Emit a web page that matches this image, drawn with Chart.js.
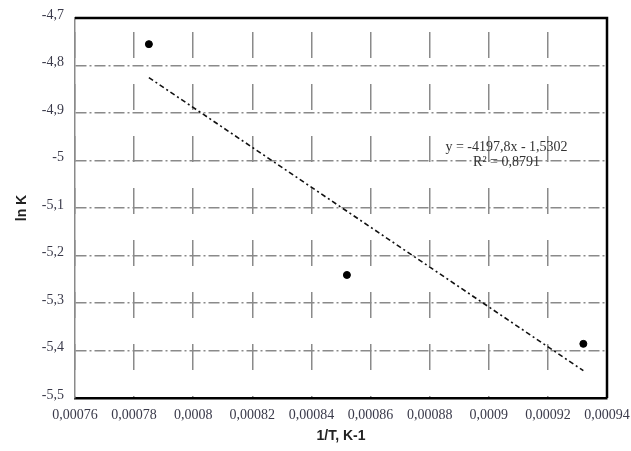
<!DOCTYPE html>
<html>
<head>
<meta charset="utf-8">
<script src="https://cdn.jsdelivr.net/npm/chart.js@4.4.1/dist/chart.umd.min.js"></script>
<style>
    html, body { margin: 0; padding: 0; background: #fff; }
    #wrap { width: 631px; height: 451px; position: relative; }
</style>
</head>
<body>
<div id="wrap"><canvas id="chart" width="631" height="451"></canvas></div>
<script>
// dados
const invT = [0.000785, 0.000852, 0.000932];
const lnK = [-4.755, -5.241, -5.386];

// linha de tendência (Excel): y = a*x + b
const trendSlope = -4197.8;
const trendIntercept = -1.5302;
const trendLabel = ['y = -4197,8x - 1,5302', 'R\u00b2 = 0,8791'];

const xTicks = [0.00076, 0.00078, 0.0008, 0.00082, 0.00084, 0.00086, 0.00088, 0.0009, 0.00092, 0.00094];
const xTickLabels = ['0,00076', '0,00078', '0,0008', '0,00082', '0,00084', '0,00086', '0,00088', '0,0009', '0,00092', '0,00094'];
const yTicks = [-4.7, -4.8, -4.9, -5, -5.1, -5.2, -5.3, -5.4, -5.5];
const yTickLabels = ['-4,7', '-4,8', '-4,9', '-5', '-5,1', '-5,2', '-5,3', '-5,4', '-5,5'];

const points = invT.map((x, i) => ({ x: x, y: lnK[i] }));
const xFirst = invT[0], xLast = invT[invT.length - 1];
const trend = [xFirst, xLast].map(x => ({ x: x, y: trendSlope * x + trendIntercept }));

// moldura superior/direita e texto da equação
const framePlugin = {
    id: 'frame',
    afterDatasetsDraw(chart) {
        const { ctx, chartArea: a, scales } = chart;
        ctx.save();
        ctx.strokeStyle = '#000';
        ctx.lineWidth = 2.5;
        ctx.beginPath();
        ctx.moveTo(a.left, a.top);
        ctx.lineTo(a.right, a.top);
        ctx.lineTo(a.right, a.bottom);
        ctx.stroke();

        // equação
        const ex = scales.x.getPixelForValue(0.000906);
        const ey = scales.y.getPixelForValue(-4.972);
        ctx.fillStyle = '#333';
        ctx.font = '14px "Liberation Serif", serif';
        ctx.textAlign = 'center';
        ctx.textBaseline = 'middle';
        ctx.fillText(trendLabel[0], ex, ey);
        ctx.fillText(trendLabel[1], ex, ey + 15);
        ctx.restore();
    }
};

new Chart(document.getElementById('chart'), {
    type: 'scatter',
    data: {
        datasets: [
            {
                label: 'ln K',
                data: points,
                backgroundColor: '#000',
                borderColor: '#000',
                pointRadius: 3.5,
                pointHoverRadius: 3.5,
                showLine: false
            },
            {
                label: 'tendência',
                data: trend,
                showLine: true,
                borderColor: '#111',
                borderWidth: 1.6,
                borderDash: [5, 3, 2, 3],
                pointRadius: 0,
                fill: false
            }
        ]
    },
    options: {
        responsive: false,
        animation: false,
        events: [],
        layout: { padding: { top: 18, right: 24, bottom: 0, left: 0 } },
        plugins: {
            legend: { display: false },
            tooltip: { enabled: false }
        },
        scales: {
            x: {
                type: 'linear',
                min: 0.00076,
                max: 0.00094,
                afterBuildTicks: s => { s.ticks = xTicks.map(v => ({ value: v })); },
                afterFit: s => {
                    s.height = 53;
                    s.paddingLeft = 0;
                    s.paddingRight = 0;
                },
                ticks: {
                    padding: 9,
                    color: '#3a3a4a',
                    font: { family: '"Liberation Serif", serif', size: 14 },
                    callback: (v, i) => xTickLabels[i]
                },
                grid: {
                    color: '#8a8a8a',
                    lineWidth: 1.5,
                    drawTicks: false
                },
                border: {
                    display: true,
                    color: '#000',
                    width: 2.5,
                    dash: [26, 26],
                    dashOffset: 38
                },
                title: {
                    display: true,
                    text: '1/T, K-1',
                    color: '#222',
                    font: { family: '"Liberation Sans", Arial, sans-serif', size: 14, weight: 'bold' },
                    padding: { top: 0, bottom: 6 }
                }
            },
            y: {
                type: 'linear',
                min: -5.5,
                max: -4.7,
                afterBuildTicks: s => { s.ticks = yTicks.map(v => ({ value: v })); },
                afterFit: s => {
                    s.width = 75;
                    s.paddingTop = 0;
                    s.paddingBottom = 0;
                },
                ticks: {
                    padding: 11,
                    labelOffset: -3,
                    color: '#3a3a4a',
                    font: { family: '"Liberation Serif", serif', size: 14 },
                    callback: (v, i) => yTickLabels[i]
                },
                grid: {
                    color: '#8a8a8a',
                    lineWidth: 1.5,
                    drawTicks: false
                },
                border: {
                    display: true,
                    color: '#8a8a8a',
                    width: 1.5,
                    dash: [11, 3, 2, 3]
                },
                title: {
                    display: true,
                    text: 'ln K',
                    color: '#222',
                    font: { family: '"Liberation Sans", Arial, sans-serif', size: 14, weight: 'bold' },
                    padding: { top: 14, bottom: 0 }
                }
            }
        }
    },
    plugins: [framePlugin]
});
</script>
</body>
</html>
